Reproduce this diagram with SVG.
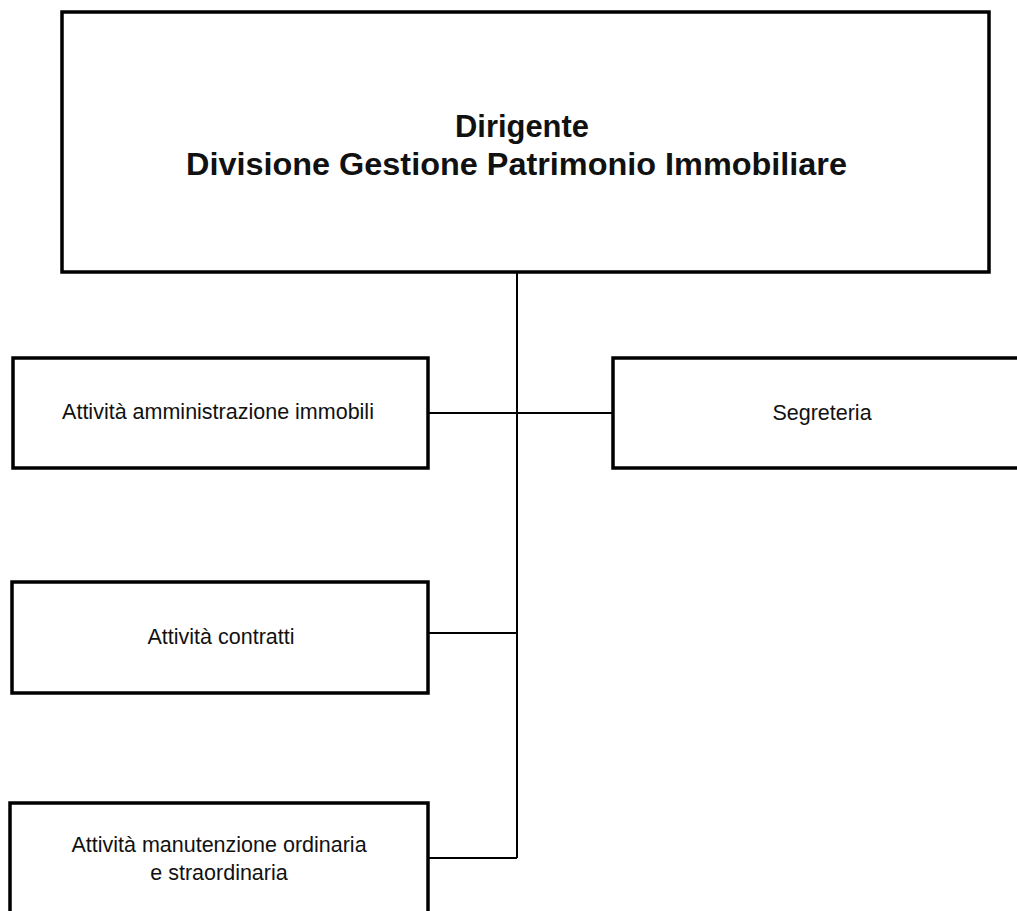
<svg xmlns="http://www.w3.org/2000/svg" width="1017" height="911" viewBox="0 0 1017 911">
<style>
.box{fill:#fff;stroke:#000;stroke-width:3.5}
.conn{fill:none;stroke:#000;stroke-width:2}
.lbl{font-family:"Liberation Sans",Arial,sans-serif;font-size:21.5px;fill:#111;text-anchor:middle}
.head{font-family:"Liberation Sans",Arial,sans-serif;font-size:31px;font-weight:bold;fill:#111}
</style>
<rect width="1017" height="911" fill="#fff"/>
<g id="connectors">
<line class="conn" x1="517" y1="272" x2="517" y2="858"/>
<line class="conn" x1="428" y1="413" x2="613" y2="413"/>
<line class="conn" x1="428" y1="633" x2="517" y2="633"/>
<line class="conn" x1="428" y1="858" x2="517" y2="858"/>
</g>
<g id="dirigente">
<rect class="box" x="62" y="12" width="927" height="260"/>
<text class="head" x="455" y="137" textLength="134" lengthAdjust="spacingAndGlyphs">Dirigente</text>
<text class="head" x="186" y="175" textLength="661" lengthAdjust="spacingAndGlyphs">Divisione Gestione Patrimonio Immobiliare</text>
</g>
<g id="amministrazione">
<rect class="box" x="13" y="358" width="415" height="110"/>
<text class="lbl" x="218" y="419">Attività amministrazione immobili</text>
</g>
<g id="segreteria">
<rect class="box" x="613" y="358" width="420" height="110"/>
<text class="lbl" x="822" y="420">Segreteria</text>
</g>
<g id="contratti">
<rect class="box" x="12" y="582" width="416" height="111"/>
<text class="lbl" x="221" y="644">Attività contratti</text>
</g>
<g id="manutenzione">
<rect class="box" x="10" y="803" width="418" height="130"/>
<text class="lbl" x="219" y="852">Attività manutenzione ordinaria</text>
<text class="lbl" x="219" y="880">e straordinaria</text>
</g>
</svg>
